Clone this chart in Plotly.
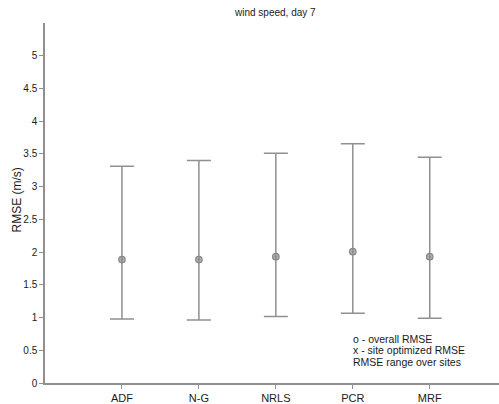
import plotly.graph_objects as go

categories = ["ADF", "N-G", "NRLS", "PCR", "MRF"]
x_pos = [1, 2, 3, 4, 5]
overall_rmse = [1.886, 1.886, 1.93, 2.006, 1.93]
range_max = [3.31, 3.40, 3.51, 3.655, 3.45]
range_min = [0.976, 0.961, 1.016, 1.066, 0.99]

y_ticks = [0, 0.5, 1, 1.5, 2, 2.5, 3, 3.5, 4, 4.5, 5]
y_tick_text = ["0", "0.5", "1", "1.5", "2", "2.5", "3", "3.5", "4", "4.5", "5"]

legend_lines = ["o - overall RMSE", "x - site optimized RMSE", "RMSE range over sites"]

gray = "#909090"
font = "Liberation Sans, Arial, sans-serif"
txt = "#1a1a1a"

# plot area in pixels
L, R, T, B = 45, 499, 23, 388
W, H = 499, 404


def px(xp):
    return (xp - L) / (R - L)


def py(yp):
    return (B - yp) / (B - T)


err_plus = [hi - m for hi, m in zip(range_max, overall_rmse)]
err_minus = [m - lo for lo, m in zip(range_min, overall_rmse)]

fig = go.Figure()
fig.add_trace(go.Scatter(
    x=x_pos, y=overall_rmse, mode="markers",
    marker=dict(symbol="circle-dot", size=6.5, color="rgba(150,150,150,0.75)",
                line=dict(color="#888", width=1.2)),
    error_y=dict(type="data", symmetric=False, array=err_plus, arrayminus=err_minus,
                 color=gray, thickness=1.5, width=12),
    showlegend=False,
))

fig.update_layout(
    width=W, height=H,
    margin=dict(l=L, r=W - R, t=T, b=H - B),
    paper_bgcolor="white", plot_bgcolor="white",
    font=dict(family=font, size=10, color=txt),
    xaxis=dict(range=[0, 5.9], tickvals=x_pos, ticktext=categories, showgrid=False,
               zeroline=False, showline=True, linecolor=gray, linewidth=1.5,
               ticks="outside", ticklen=4, tickcolor=gray, tickfont=dict(size=11, color=txt)),
    yaxis=dict(range=[0, 5.5], tickvals=y_ticks, ticktext=y_tick_text, showgrid=False,
               zeroline=False, showline=True, linecolor=gray, linewidth=1.5,
               ticks="outside", ticklen=4, tickcolor=gray, tickfont=dict(size=10, color=txt)),
)

fig.add_annotation(x=px(275), y=py(12), xref="paper", yref="paper", text="wind speed, day 7",
                   showarrow=False, xanchor="center", yanchor="middle",
                   font=dict(size=10, color=txt))
fig.add_annotation(x=px(17), y=py(203), xref="paper", yref="paper", text="RMSE (m/s)",
                   showarrow=False, xanchor="center", yanchor="middle", textangle=-90,
                   font=dict(size=12, color=txt))

for i, line in enumerate(legend_lines):
    fig.add_annotation(x=px(351), y=py(343.3 + 11.7 * i), xref="paper", yref="paper", text=line,
                       showarrow=False, xanchor="left", yanchor="middle", align="left",
                       font=dict(size=10.5, color=txt))

fig.write_html("out.html")
